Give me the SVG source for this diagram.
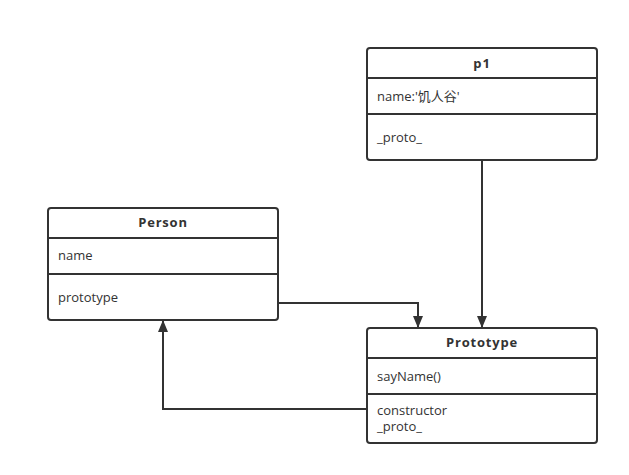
<svg xmlns="http://www.w3.org/2000/svg" width="629" height="475" viewBox="0 0 629 475">
<defs>
<style>
.box{fill:#fff;stroke:#333;stroke-width:2}
.sep{stroke:#333;stroke-width:2}
.t{font-family:"Open Sans","Noto Sans CJK SC",sans-serif;font-size:13px;fill:#333}
.h{font-weight:bold;text-anchor:middle;letter-spacing:0.8px}
.c{fill:none;stroke:#333;stroke-width:2}
</style>
<marker id="arr" markerWidth="12" markerHeight="10" refX="11" refY="5" orient="auto" markerUnits="userSpaceOnUse">
<path d="M0,0 L12,5 L0,10 Z" fill="#333"/>
</marker>
</defs>
<rect width="629" height="475" fill="#fff"/>
<g id="connectors">
<path class="c" d="M482,160 L482,327" marker-end="url(#arr)"/>
<path class="c" d="M278,303 L418,303 L418,327" marker-end="url(#arr)"/>
<path class="c" d="M367,409 L163,409 L163,321" marker-end="url(#arr)"/>
</g>
<g id="p1">
<rect class="box" x="367" y="48" width="230" height="112" rx="3"/>
<line class="sep" x1="367" y1="78" x2="597" y2="78"/>
<line class="sep" x1="367" y1="114" x2="597" y2="114"/>
<text class="t h" x="482" y="68">p1</text>
<text class="t" x="377" y="101">name:'饥人谷'</text>
<text class="t" x="377" y="142">_proto_</text>
</g>
<g id="Person">
<rect class="box" x="48" y="208" width="230" height="112" rx="3"/>
<line class="sep" x1="48" y1="238" x2="278" y2="238"/>
<line class="sep" x1="48" y1="274" x2="278" y2="274"/>
<text class="t h" x="163" y="227">Person</text>
<text class="t" x="58" y="260">name</text>
<text class="t" x="58" y="302">prototype</text>
</g>
<g id="Prototype">
<rect class="box" x="367" y="328" width="230" height="115" rx="3"/>
<line class="sep" x1="367" y1="358" x2="597" y2="358"/>
<line class="sep" x1="367" y1="394" x2="597" y2="394"/>
<text class="t h" x="482" y="347">Prototype</text>
<text class="t" x="377" y="381">sayName()</text>
<text class="t" x="377" y="415">constructor</text>
<text class="t" x="377" y="431">_proto_</text>
</g>
</svg>
